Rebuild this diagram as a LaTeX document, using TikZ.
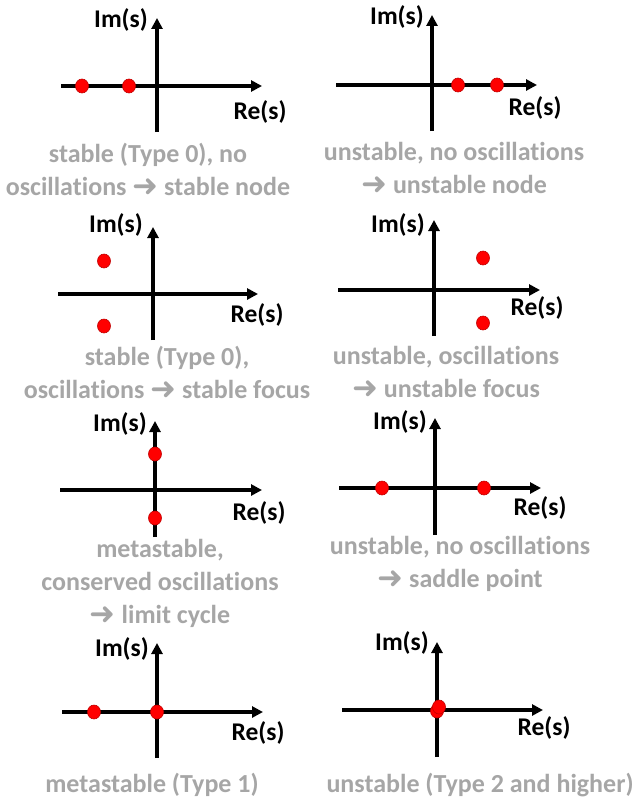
\documentclass[tikz,border=0pt]{standalone}
\usepackage{fontspec}
\setmainfont{Carlito}[Ligatures=NoCommon]
\newfontfamily\dingfont{DejaVu Sans}
\usetikzlibrary{arrows.meta,shapes.geometric}
\definecolor{capgray}{HTML}{A6A6A6}
\definecolor{poleedge}{HTML}{C00000}
\tikzset{
  axis/.style={line width=4pt, -{Triangle[length=11pt,width=11pt]}},
  vaxis/.style={line width=4pt, -{Triangle[length=11pt,width=11pt]}},
  axlabel/.style={font=\fontsize{25.5}{30}\selectfont\bfseries, text=black, inner sep=0pt},
  caption/.style={font=\fontsize{26}{33}\selectfont\bfseries, text=capgray, align=center, inner sep=0pt},
  pole/.style={ellipse, fill=red, draw=poleedge, line width=0.6pt, minimum width=13pt, minimum height=14pt, inner sep=0pt},
}
\newcommand{\ar}{{\dingfont\fontsize{31}{31}\selectfont\raisebox{-1pt}{➜}}}
\begin{document}
\begin{tikzpicture}[x=1pt,y=-1pt]
\useasboundingbox (0,0) rectangle (635,800);
% ---------- Panel 1
\coordinate (v1b) at (157,132); \coordinate (v1t) at (157,18);
\coordinate (h1l) at (61,86);  \coordinate (h1r) at (262,86);
\draw[vaxis] (v1b) -- (v1t);
\draw[axis] (h1l) -- (h1r);
\node[axlabel] (im1) at (121,20) {Im(s)};
\node[axlabel] (re1) at (260,112) {Re(s)};
\node[pole] (p1a) at (82,86) {};
\node[pole] (p1b) at (129,86) {};
\node[caption] (c1) at (148,169.5) {stable (Type 0), no\\oscillations \ar{} stable node};
% ---------- Panel 2
\coordinate (v2b) at (432,131); \coordinate (v2t) at (432,15);
\coordinate (h2l) at (336,85);  \coordinate (h2r) at (537,85);
\draw[vaxis] (v2b) -- (v2t);
\draw[axis] (h2l) -- (h2r);
\node[axlabel] (im2) at (397,17) {Im(s)};
\node[axlabel] (re2) at (535,108) {Re(s)};
\node[pole] (p2a) at (458,85) {};
\node[pole] (p2b) at (497,85) {};
\node[caption] (c2) at (454,168.5) {unstable, no oscillations\\\ar{} unstable node};
% ---------- Panel 3
\coordinate (v3b) at (153,340); \coordinate (v3t) at (153,227);
\coordinate (h3l) at (58,294);  \coordinate (h3r) at (258,294);
\draw[vaxis] (v3b) -- (v3t);
\draw[axis] (h3l) -- (h3r);
\node[axlabel] (im3) at (116,225) {Im(s)};
\node[axlabel] (re3) at (257,315) {Re(s)};
\node[pole] (p3a) at (104,261) {};
\node[pole] (p3b) at (104,326) {};
\node[caption] (c3) at (167,372.5) {stable (Type 0),\\oscillations \ar{} stable focus};
% ---------- Panel 4
\coordinate (v4b) at (434,336); \coordinate (v4t) at (434,220);
\coordinate (h4l) at (338,290);  \coordinate (h4r) at (540,290);
\draw[vaxis] (v4b) -- (v4t);
\draw[axis] (h4l) -- (h4r);
\node[axlabel] (im4) at (398,225) {Im(s)};
\node[axlabel] (re4) at (537,308) {Re(s)};
\node[pole] (p4a) at (483,258) {};
\node[pole] (p4b) at (483,323) {};
\node[caption] (c4) at (446,372.5) {unstable, oscillations\\\ar{} unstable focus};
% ---------- Panel 5
\coordinate (v5b) at (155,537); \coordinate (v5t) at (155,421);
\coordinate (h5l) at (60,490);  \coordinate (h5r) at (262,490);
\draw[vaxis] (v5b) -- (v5t);
\draw[axis] (h5l) -- (h5r);
\node[axlabel] (im5) at (120,424) {Im(s)};
\node[axlabel] (re5) at (259,513) {Re(s)};
\node[pole] (p5a) at (155,454) {};
\node[pole] (p5b) at (155,518) {};
\node[caption] (c5) at (160,583) {metastable,\\conserved oscillations\\\ar{} limit cycle};
% ---------- Panel 6
\coordinate (v6b) at (435,535); \coordinate (v6t) at (435,418);
\coordinate (h6l) at (339,488);  \coordinate (h6r) at (541,488);
\draw[vaxis] (v6b) -- (v6t);
\draw[axis] (h6l) -- (h6r);
\node[axlabel] (im6) at (400,422) {Im(s)};
\node[axlabel] (re6) at (540,508) {Re(s)};
\node[pole] (p6a) at (382,488) {};
\node[pole] (p6b) at (484,488) {};
\node[caption] (c6) at (460,563.5) {unstable, no oscillations\\\ar{} saddle point};
% ---------- Panel 7
\coordinate (v7b) at (157,758); \coordinate (v7t) at (157,643);
\coordinate (h7l) at (62,712);  \coordinate (h7r) at (263,712);
\draw[vaxis] (v7b) -- (v7t);
\draw[axis] (h7l) -- (h7r);
\node[axlabel] (im7) at (122,649) {Im(s)};
\node[axlabel] (re7) at (258,733) {Re(s)};
\node[pole] (p7a) at (94,712) {};
\node[pole] (p7b) at (157,712) {};
\node[caption] (c7) at (152,785) {metastable (Type 1)};
% ---------- Panel 8
\coordinate (v8b) at (437,757); \coordinate (v8t) at (437,642);
\coordinate (h8l) at (342,710);  \coordinate (h8r) at (543,710);
\draw[vaxis] (v8b) -- (v8t);
\draw[axis] (h8l) -- (h8r);
\node[axlabel] (im8) at (402,643) {Im(s)};
\node[axlabel] (re8) at (544,728) {Re(s)};
\node[pole] (p8a) at (437,711) {};
\node[pole] (p8b) at (439,707) {};
\node[caption] (c8) at (480,785) {unstable (Type 2 and higher)};
\end{tikzpicture}
\end{document}
